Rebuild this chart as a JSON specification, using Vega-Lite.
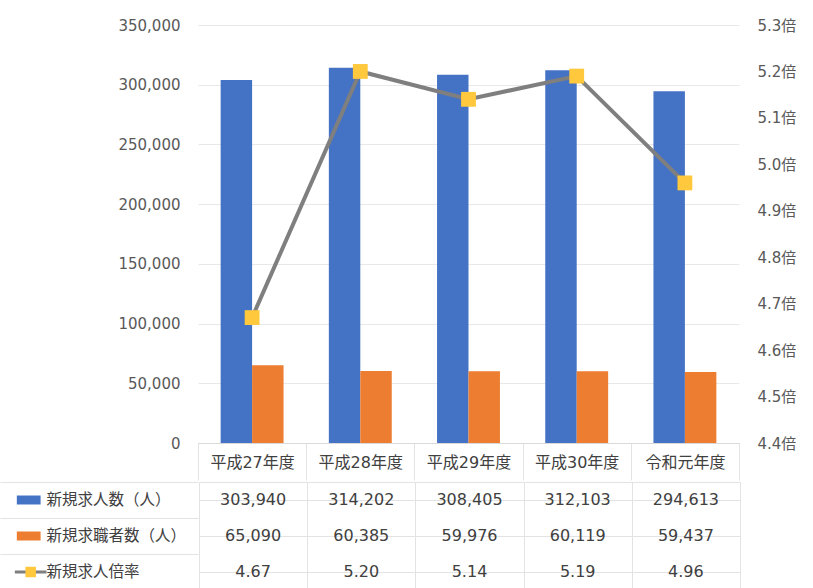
{
  "$schema": "https://vega.github.io/schema/vega-lite/v6.json",
  "padding": {"left": 0, "top": 18, "right": 0, "bottom": 0},
  "background": "white",
  "config": {
    "font": "DejaVu Sans, Noto Sans CJK JP",
    "view": {"stroke": null},
    "concat": {"spacing": 0}
  },
  "datasets": {
    "main": [
      {"year": "平成27年度", "新規求人数（人）": 303940, "新規求職者数（人）": 65090, "新規求人倍率": 4.67},
      {"year": "平成28年度", "新規求人数（人）": 314202, "新規求職者数（人）": 60385, "新規求人倍率": 5.20},
      {"year": "平成29年度", "新規求人数（人）": 308405, "新規求職者数（人）": 59976, "新規求人倍率": 5.14},
      {"year": "平成30年度", "新規求人数（人）": 312103, "新規求職者数（人）": 60119, "新規求人倍率": 5.19},
      {"year": "令和元年度", "新規求人数（人）": 294613, "新規求職者数（人）": 59437, "新規求人倍率": 4.96}
    ]
  },
  "spacing": 0,
  "vconcat": [
    {
      "spacing": 0,
      "hconcat": [
        {
          "width": 98,
          "height": 418,
          "data": {"values": []},
          "mark": {"type": "point"}
        },
        {
          "width": 541,
          "height": 418,
          "data": {"name": "main"},
          "layer": [
            {
              "transform": [{"fold": ["新規求人数（人）", "新規求職者数（人）"], "as": ["series", "value"]}],
              "mark": {"type": "bar"},
              "encoding": {
                "x": {"field": "year", "type": "nominal", "sort": null,
                      "scale": {"paddingInner": 0, "paddingOuter": 0},
                      "axis": {"title": null, "labelFontSize": 16, "labelColor": "#404040", "labelAngle": 0,
                               "ticks": true, "tickBand": "extent", "tickSize": 37, "tickColor": "#e3e3e3",
                               "labelPadding": -26, "domainColor": "#d9d9d9"}},
                "xOffset": {"field": "series", "type": "nominal", "sort": ["新規求人数（人）", "新規求職者数（人）"],
                            "scale": {"paddingInner": 0, "paddingOuter": 0.72}},
                "y": {"field": "value", "type": "quantitative",
                      "scale": {"domain": [0, 350000]},
                      "axis": {"title": null, "values": [0, 50000, 100000, 150000, 200000, 250000, 300000, 350000],
                               "labelExpr": "format(datum.value, ',')", "domain": false, "ticks": false,
                               "labelPadding": 18, "minExtent": 100, "maxExtent": 100,
                               "gridColor": "#e8e8e8", "labelColor": "#595959", "labelFontSize": 15}},
                "color": {"field": "series", "type": "nominal",
                          "scale": {"domain": ["新規求人数（人）", "新規求職者数（人）"], "range": ["#4472C4", "#ED7D31"]},
                          "legend": null}
              }
            },
            {
              "encoding": {
                "x": {"field": "year", "type": "nominal", "sort": null},
                "y": {"field": "新規求人倍率", "type": "quantitative",
                      "scale": {"domain": [4.4, 5.3]},
                      "axis": {"orient": "right", "title": null, "values": [4.4, 4.5, 4.6, 4.7, 4.8, 4.9, 5.0, 5.1, 5.2, 5.3],
                               "labelExpr": "format(datum.value, '.1f') + '倍'", "grid": false, "domain": false, "ticks": false,
                               "labelPadding": 18, "labelColor": "#595959", "labelFontSize": 15}}
              },
              "layer": [
                {"mark": {"type": "line", "color": "#7f7f7f", "strokeWidth": 4}},
                {"mark": {"type": "point", "shape": "square", "filled": true, "color": "#FFC83D", "size": 220, "opacity": 1}}
              ]
            }
          ],
          "resolve": {"scale": {"y": "independent"}}
        }
      ]
    },
    {
      "spacing": 0,
      "hconcat": [
        {
          "width": 198,
          "height": 108,
          "data": {"values": [{}]},
          "layer": [
            {
              "mark": {"type": "bar", "size": 9, "color": "#4472C4"},
              "encoding": {
                "x": {"datum": 17, "type": "quantitative", "scale": {"domain": [0, 198]}, "axis": null},
                "x2": {"datum": 41},
                "y": {"datum": "r1", "type": "nominal",
                      "scale": {"domain": ["r1", "r2", "r3"], "paddingInner": 0, "paddingOuter": 0},
                      "axis": {"labels": false, "ticks": false, "domain": false, "title": null, "grid": true,
                               "bandPosition": 0, "gridColor": "#e3e3e3"}}
              }
            },
            {
              "mark": {"type": "bar", "size": 9, "color": "#ED7D31"},
              "encoding": {
                "x": {"datum": 17, "type": "quantitative"},
                "x2": {"datum": 41},
                "y": {"datum": "r2", "type": "nominal"}
              }
            },
            {
              "mark": {"type": "rule", "color": "#7f7f7f", "strokeWidth": 3},
              "encoding": {
                "x": {"datum": 15, "type": "quantitative"},
                "x2": {"datum": 47},
                "y": {"datum": "r3", "type": "nominal"}
              }
            },
            {
              "mark": {"type": "point", "shape": "square", "filled": true, "color": "#FFC83D", "size": 110, "opacity": 1},
              "encoding": {
                "x": {"datum": 31, "type": "quantitative"},
                "y": {"datum": "r3", "type": "nominal"}
              }
            },
            {
              "mark": {"type": "text", "align": "left", "fontSize": 15.5, "color": "#404040"},
              "encoding": {
                "x": {"datum": 47, "type": "quantitative"},
                "y": {"datum": "r1", "type": "nominal"},
                "text": {"value": "新規求人数（人）"}
              }
            },
            {
              "mark": {"type": "text", "align": "left", "fontSize": 15.5, "color": "#404040"},
              "encoding": {
                "x": {"datum": 47, "type": "quantitative"},
                "y": {"datum": "r2", "type": "nominal"},
                "text": {"value": "新規求職者数（人）"}
              }
            },
            {
              "mark": {"type": "text", "align": "left", "fontSize": 15.5, "color": "#404040"},
              "encoding": {
                "x": {"datum": 47, "type": "quantitative"},
                "y": {"datum": "r3", "type": "nominal"},
                "text": {"value": "新規求人倍率"}
              }
            }
          ]
        },
        {
          "width": 541,
          "height": 108,
          "view": {"stroke": "#e3e3e3"},
          "data": {"name": "main"},
          "encoding": {
            "x": {"field": "year", "type": "nominal", "sort": null,
                  "scale": {"paddingInner": 0, "paddingOuter": 0},
                  "axis": {"labels": false, "ticks": false, "domain": false, "title": null, "grid": true,
                           "tickBand": "extent", "gridColor": "#e3e3e3"}}
          },
          "layer": [
            {
              "mark": {"type": "text", "fontSize": 16, "color": "#404040"},
              "encoding": {
                "y": {"datum": "r1", "type": "nominal",
                      "scale": {"domain": ["r1", "r2", "r3"], "paddingInner": 0, "paddingOuter": 0},
                      "axis": {"labels": false, "ticks": false, "domain": false, "title": null, "grid": true,
                               "bandPosition": 0, "gridColor": "#e3e3e3"}},
                "text": {"field": "新規求人数（人）", "type": "quantitative", "format": ","}
              }
            },
            {
              "mark": {"type": "text", "fontSize": 16, "color": "#404040"},
              "encoding": {
                "y": {"datum": "r2", "type": "nominal"},
                "text": {"field": "新規求職者数（人）", "type": "quantitative", "format": ","}
              }
            },
            {
              "mark": {"type": "text", "fontSize": 16, "color": "#404040"},
              "encoding": {
                "y": {"datum": "r3", "type": "nominal"},
                "text": {"field": "新規求人倍率", "type": "quantitative", "format": ".2f"}
              }
            }
          ]
        }
      ]
    }
  ]
}
